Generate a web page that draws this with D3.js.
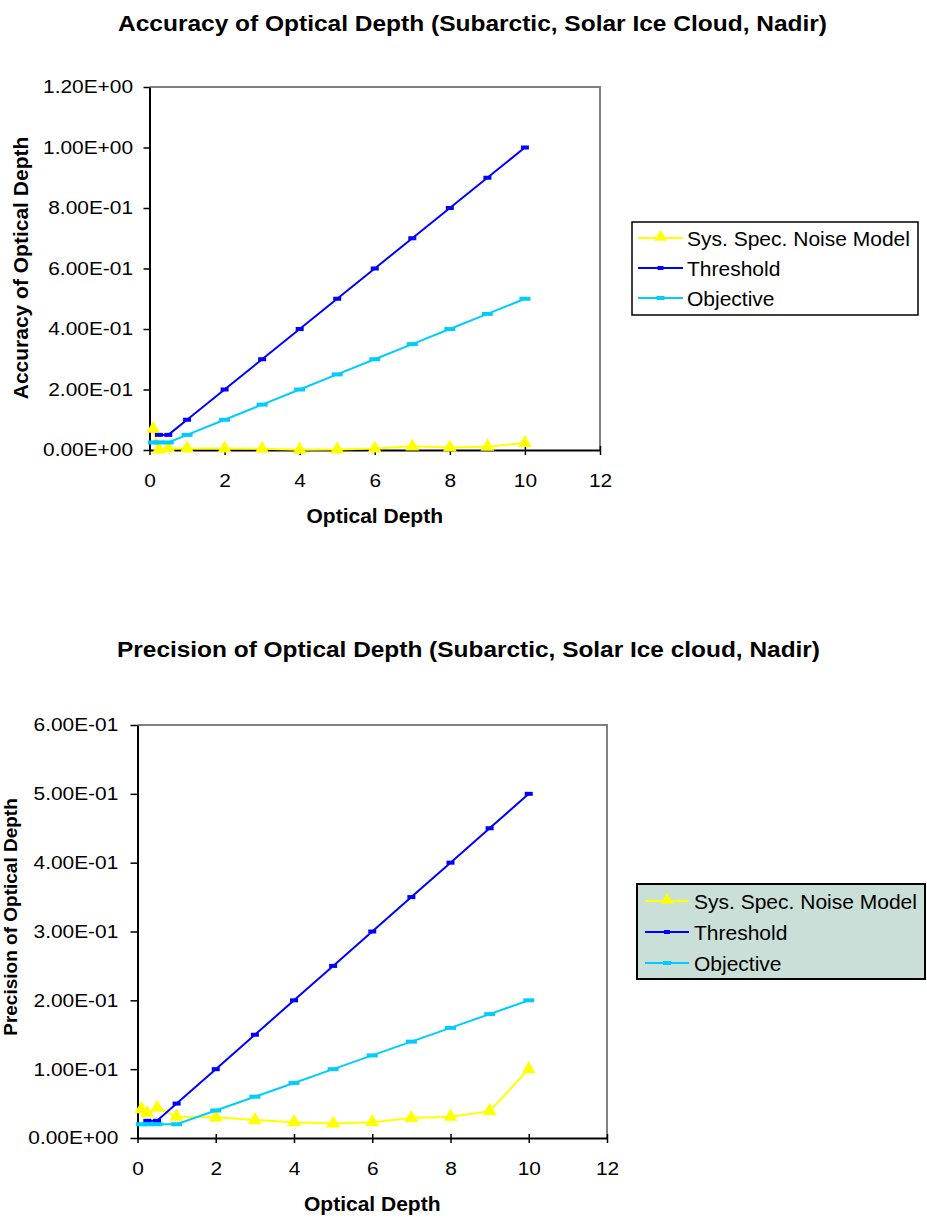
<!DOCTYPE html>
<html><head><meta charset="utf-8">
<script src="https://cdn.jsdelivr.net/npm/d3@7"></script>
<style>
body{margin:0;background:#fff}
svg{display:block}
text{font-family:"Liberation Sans",Arial,sans-serif;fill:#000}
</style></head>
<body><svg id="c" width="927" height="1220"></svg>
<script>
// ---- data ----
const xTicks = [0, 2, 4, 6, 8, 10, 12];
const accYTicks = [0, 0.2, 0.4, 0.6, 0.8, 1.0, 1.2];
const precYTicks = [0, 0.1, 0.2, 0.3, 0.4, 0.5, 0.6];
const seriesNames = ["Sys. Spec. Noise Model", "Threshold", "Objective"];

const sysX = [0.1, 0.25, 0.5, 1, 2, 3, 4, 5, 6, 7, 8, 9, 10];
const thrX = [0.25, 0.5, 1, 2, 3, 4, 5, 6, 7, 8, 9, 10];
const objX = [0.1, 0.25, 0.5, 1, 2, 3, 4, 5, 6, 7, 8, 9, 10];

const accSys = [0.07, 0.002, 0.006, 0.005, 0.005, 0.004, 0.001, 0.002, 0.005, 0.012, 0.008, 0.011, 0.023];
const accThr = [0.05, 0.05, 0.1, 0.2, 0.3, 0.4, 0.5, 0.6, 0.7, 0.8, 0.9, 1.0];
const accObj = [0.025, 0.025, 0.025, 0.05, 0.1, 0.15, 0.2, 0.25, 0.3, 0.35, 0.4, 0.45, 0.5];

const precSys = [0.042, 0.036, 0.044, 0.031, 0.03, 0.026, 0.023, 0.021, 0.023, 0.029, 0.031, 0.039, 0.1];
const precThr = [0.025, 0.025, 0.05, 0.1, 0.15, 0.2, 0.25, 0.3, 0.35, 0.4, 0.45, 0.5];
const precObj = [0.02, 0.02, 0.02, 0.02, 0.04, 0.06, 0.08, 0.1, 0.12, 0.14, 0.16, 0.18, 0.2];

const titles = [
  "Accuracy of Optical Depth (Subarctic, Solar Ice Cloud, Nadir)",
  "Precision of Optical Depth (Subarctic, Solar Ice cloud, Nadir)"
];
const yTitles = ["Accuracy of Optical Depth", "Precision of Optical Depth"];
const xTitle = "Optical Depth";

// ---- styles ----
const colors = ["#FFFF00", "#0000FF", "#00CCFF"];

function fmtE(v) {
  if (Math.abs(v) < 1e-12) return "0.00E+00";
  const e = Math.floor(Math.log10(Math.abs(v)) + 1e-9);
  const m = v / Math.pow(10, e);
  return m.toFixed(2) + "E" + (e < 0 ? "-" : "+") + String(Math.abs(e)).padStart(2, "0");
}

const svg = d3.select("#c");
const SX = 1.13;

function drawChart(cfg) {
  const g = svg.append("g");
  const x = d3.scaleLinear().domain([0, 12]).range([cfg.left, cfg.right]);
  const y = d3.scaleLinear().domain([0, cfg.yMax]).range([cfg.bottom, cfg.top]);

  // title
  g.append("text").attr("x", cfg.titleCx).attr("y", cfg.titleY)
    .attr("text-anchor", "middle").attr("font-weight", "bold").attr("font-size", 22)
    .attr("textLength", cfg.titleLen).attr("lengthAdjust", "spacingAndGlyphs")
    .text(cfg.title);

  // gray frame top/right
  g.append("path")
    .attr("d", `M${cfg.left},${cfg.top}H${cfg.right}V${cfg.bottom}`)
    .attr("fill", "none").attr("stroke", "#808080").attr("stroke-width", 2);

  // y axis
  const ya = g.append("g").attr("transform", `translate(${cfg.left},0)`)
    .call(d3.axisLeft(y).tickValues(cfg.yTicks).tickFormat(fmtE)
      .tickSizeInner(cfg.yTick).tickSizeOuter(0).tickPadding(cfg.yPad));
  ya.select(".domain").attr("stroke", "#000").attr("stroke-width", 2);
  ya.selectAll(".tick line").attr("stroke", "#000").attr("stroke-width", 1.5);
  ya.selectAll(".tick text").attr("font-size", 18.5).attr("font-family", null)
    .attr("transform", `scale(${SX},1)`);
  ya.attr("font-family", null);

  // x axis
  const xa = g.append("g").attr("transform", `translate(0,${cfg.bottom})`)
    .call(d3.axisBottom(x).tickValues(xTicks).tickFormat(d3.format("d"))
      .tickSizeInner(5).tickSizeOuter(0).tickPadding(19));
  xa.select(".domain").attr("stroke", "#000").attr("stroke-width", 2);
  xa.selectAll(".tick line").attr("stroke", "#000").attr("stroke-width", 1.5).attr("y1", -4);
  xa.selectAll(".tick text").attr("font-size", 18.5).attr("font-family", null)
    .attr("transform", `scale(${SX},1)`)
    .attr("x", function(d){ return 0; });
  xa.attr("font-family", null);
  // keep x-labels centered on ticks despite scaling (scaling about tick origin keeps center)

  // axis titles
  g.append("text").attr("x", (cfg.left + cfg.right) / 2).attr("y", cfg.bottom + 73)
    .attr("text-anchor", "middle").attr("font-weight", "bold").attr("font-size", 21)
    .text(xTitle);
  g.append("text")
    .attr("transform", `translate(${cfg.yTitleX},${cfg.yTitleCy}) rotate(-90)`)
    .attr("text-anchor", "middle").attr("font-weight", "bold").attr("font-size", cfg.yTitleSize)
    .text(cfg.yTitle);

  // series
  const line = d3.line().x(d => x(d[0])).y(d => y(d[1]));
  const tri = d3.symbol(d3.symbolTriangle, 85);
  cfg.series.forEach((s, i) => {
    const pts = s.xs.map((xv, k) => [xv, s.ys[k]]);
    g.append("path").attr("d", line(pts)).attr("fill", "none")
      .attr("stroke", colors[i]).attr("stroke-width", 2);
    if (i === 0) {
      g.selectAll(null).data(pts).enter().append("path")
        .attr("d", tri)
        .attr("transform", d => `translate(${x(d[0])},${y(d[1])})`)
        .attr("fill", colors[i]);
    } else {
      const w = i === 1 ? 8 : 11, h = 4;
      g.selectAll(null).data(pts).enter().append("rect")
        .attr("x", d => x(d[0]) - w / 2).attr("y", d => y(d[1]) - h / 2)
        .attr("width", w).attr("height", h).attr("fill", colors[i]);
    }
  });

  // legend
  const L = cfg.legend;
  g.append("rect").attr("x", L.x).attr("y", L.y).attr("width", L.w).attr("height", L.h)
    .attr("fill", L.fill).attr("stroke", "#000").attr("stroke-width", L.sw);
  seriesNames.forEach((name, i) => {
    const cy = L.y + L.row0 + i * L.dy;
    g.append("line").attr("x1", L.x + L.lx0).attr("x2", L.x + L.lx1)
      .attr("y1", cy).attr("y2", cy).attr("stroke", colors[i]).attr("stroke-width", 2);
    const mx = L.x + (L.lx0 + L.lx1) / 2;
    if (i === 0) {
      g.append("path").attr("d", d3.symbol(d3.symbolTriangle, 70)())
        .attr("transform", `translate(${mx},${cy - 1})`).attr("fill", colors[i]);
    } else {
      const w = i === 1 ? 6 : 8;
      g.append("rect").attr("x", mx - w / 2).attr("y", cy - 2).attr("width", w).attr("height", 4)
        .attr("fill", colors[i]);
    }
    g.append("text").attr("x", L.x + L.tx).attr("y", cy).attr("dy", "0.36em")
      .attr("font-size", 21).text(name);
  });
}

drawChart({
  left: 149.5, right: 600, top: 87, bottom: 450, yMax: 1.2, yTicks: accYTicks,
  yTick: 6, yPad: 8.6,
  title: titles[0], titleCx: 472.5, titleY: 31, titleLen: 709,
  yTitle: yTitles[0], yTitleX: 28, yTitleCy: 268, yTitleSize: 21,
  series: [{xs: sysX, ys: accSys}, {xs: thrX, ys: accThr}, {xs: objX, ys: accObj}],
  legend: {x: 632, y: 222, w: 286, h: 93, fill: "#FFFFFF", sw: 1.5, row0: 16, dy: 30, lx0: 6, lx1: 51, tx: 55}
});

drawChart({
  left: 137.5, right: 607, top: 725, bottom: 1138, yMax: 0.6, yTicks: precYTicks,
  yTick: 7, yPad: 10,
  title: titles[1], titleCx: 468.5, titleY: 657, titleLen: 703,
  yTitle: yTitles[1], yTitleX: 17, yTitleCy: 917, yTitleSize: 19,
  series: [{xs: sysX, ys: precSys}, {xs: thrX, ys: precThr}, {xs: objX, ys: precObj}],
  legend: {x: 637, y: 884, w: 288, h: 95, fill: "#C9DFD7", sw: 2, row0: 17, dy: 31, lx0: 8, lx1: 52, tx: 57}
});
</script>
</body></html>
